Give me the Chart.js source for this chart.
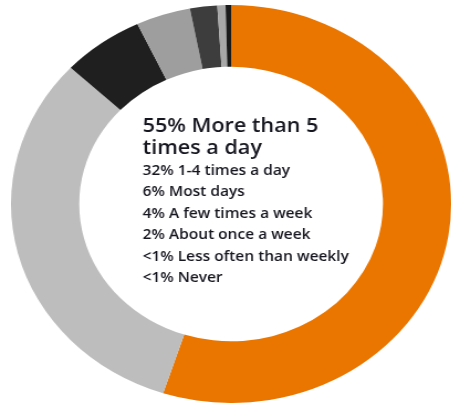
<!DOCTYPE html>
<html>
<head>
<meta charset="utf-8">
<script src="https://cdn.jsdelivr.net/npm/chart.js@4"></script>
<style>
  html, body { margin: 0; padding: 0; background: #fff; }
  #wrap { position: absolute; left: 11px; top: 5px; width: 398px; height: 398px;
          transform: scaleX(1.106); transform-origin: 0 0; }
</style>
</head>
<body>
<div id="wrap"><canvas id="donut" width="398" height="398"></canvas></div>
<script>
'use strict';

// 데이터
const categories = ['More than 5 times a day', '1-4 times a day', 'Most days',
  'A few times a week', 'About once a week', 'Less often than weekly', 'Never'];
const shares = [55, 32, 6, 4, 2, 0.6, 0.4];
const shareLabels = ['55%', '32%', '6%', '4%', '2%', '<1%', '<1%'];
const colors = ['#ea7600', '#bdbdbd', '#1f1f1f', '#9e9e9e', '#3d3d3d', '#a8a8a8', '#1a1a1a'];

// 가운데 글자 그리기
const centerText = {
  id: 'centerText',
  afterDraw(chart) {
    const ctx = chart.ctx;
    const x = 119;
    ctx.save();
    ctx.fillStyle = '#161620';
    ctx.textBaseline = 'alphabetic';
    ctx.textAlign = 'left';
    // 첫 줄은 크게, 두 줄로
    ctx.font = '600 19.5px "Open Sans"';
    const first = shareLabels[0] + ' ' + categories[0];
    const words = first.split(' ');
    ctx.fillText(words.slice(0, 4).join(' '), x, 127);
    ctx.fillText(words.slice(4).join(' '), x, 148.5);
    // 나머지
    ctx.font = '600 14px "Open Sans"';
    for (let i = 1; i < categories.length; i++) {
      ctx.fillText(shareLabels[i] + ' ' + categories[i], x, 170 + (i - 1) * 21.4);
    }
    ctx.restore();
  }
};

const donut = new Chart(document.getElementById('donut'), {
  type: 'doughnut',
  data: {
    labels: categories,
    datasets: [{
      data: shares,
      backgroundColor: colors,
      borderWidth: 0
    }]
  },
  options: {
    responsive: false,
    animation: false,
    cutout: '69%',
    plugins: {
      legend: { display: false },
      tooltip: { enabled: false }
    }
  },
  plugins: [centerText]
});
</script>
</body>
</html>
